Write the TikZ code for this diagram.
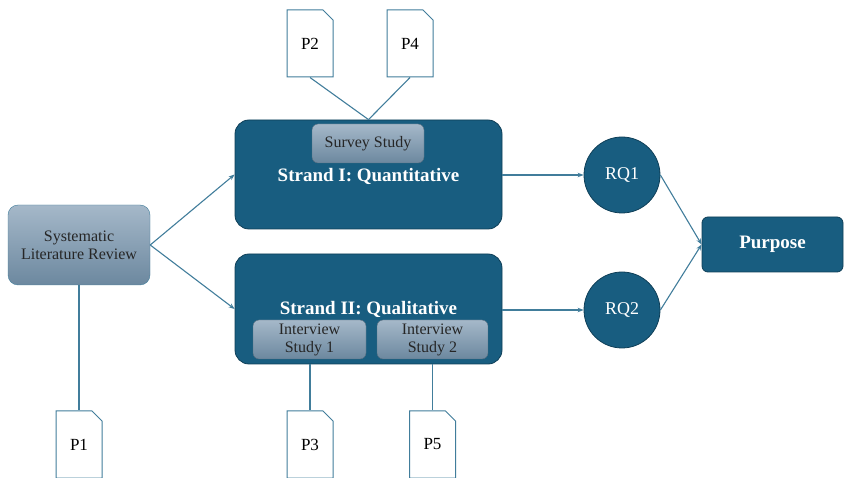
\documentclass[tikz,border=0pt]{standalone}
\usepackage{fontspec}
\setmainfont{Liberation Serif}
\usetikzlibrary{arrows.meta,positioning,shapes.misc}
\definecolor{cA}{HTML}{185D80}
\definecolor{cB}{HTML}{0F3F58}
\definecolor{cC}{HTML}{A5B8C9}
\definecolor{cD}{HTML}{6C889F}
\definecolor{cE}{HTML}{417D9B}
\tikzset{
  strand/.style={rectangle,rounded corners=14pt,draw=cB,thick,fill=cA,
                 text=white,font=\fontsize{19}{22}\selectfont\bfseries},
  study/.style={rectangle,rounded corners=6pt,draw=cD!80!black,thin,
                top color=cC,bottom color=cD,align=center,inner sep=0pt,
                font=\fontsize{16}{18}\selectfont,text=black!85},
  rq/.style={circle,draw=cB,thick,fill=cA,minimum size=76pt,
             text=white,font=\fontsize{18}{20}\selectfont},
  paper/.style={chamfered rectangle,chamfered rectangle corners=north east,
                chamfered rectangle xsep=5pt,chamfered rectangle ysep=5pt,
                draw=cE,fill=white,line width=1pt,minimum width=46pt,
                minimum height=67pt,inner sep=0pt,
                font=\fontsize{17}{19}\selectfont},
  link/.style={draw=cE,line width=1.1pt},
  flow/.style={link,-{Stealth[length=6pt,width=4.5pt]}},
}

\begin{document}
\begin{tikzpicture}[x=1pt,y=-1pt]
  \useasboundingbox (0,0) rectangle (844,478);
  % review box on left
  \node[study,rounded corners=10pt,minimum width=142pt,minimum height=80pt,
        draw=cE] (slr) at (79,245) {Systematic\\Literature Review};
  % the two strands
  \node[strand,minimum width=267pt,minimum height=109pt,text depth=-4pt]
       (s1) at (368.5,174.5) {Strand I: Quantitative};
  \node[strand,minimum width=267pt,minimum height=110pt] (s2) at (368.5,309)
       {Strand II: Qualitative};
  \node[study,minimum width=112pt,minimum height=39pt] (survey) at (368,143.5)
       {Survey Study};
  \node[study,minimum width=113pt,minimum height=39pt] (int1) at (309.5,339.5)
       {Interview\\Study 1};
  \node[study,minimum width=111pt,minimum height=39pt] (int2) at (432.5,339.5)
       {Interview\\Study 2};
  % questions and purpose
  \node[rq] (rq1) at (622,175) {RQ1};
  \node[rq] (rq2) at (622,310) {RQ2};
  \node[strand,rounded corners=6pt,minimum width=141pt,minimum height=55pt,
        font=\fontsize{19}{22}\selectfont\bfseries] (purpose) at (772.5,244.5)
       {Purpose};
  % papers
  \node[paper] (p2) at (310,43.5) {P2};
  \node[paper] (p4) at (410,43.5) {P4};
  \node[paper] (p1) at (79,444.5) {P1};
  \node[paper] (p3) at (310,444.5) {P3};
  \node[paper] (p5) at (432.5,444.5) {P5};
  % connectors
  \draw[flow] (slr.east) -- (s1.west);
  \draw[flow] (slr.east) -- (s2.west);
  \draw[flow] (s1.east |- rq1) -- (rq1);
  \draw[flow] (s2.east |- rq2) -- (rq2);
  \draw[flow] (rq1.east) -- (purpose.west);
  \draw[flow] (rq2.east) -- (purpose.west);
  \draw[link] (p2.south) -- (s1.north);
  \draw[link] (p4.south) -- (s1.north);
  \draw[link] (p1.north |- slr.south) -- (p1.north);
  \draw[link] (p3.north |- s2.south) -- (p3.north);
  \draw[link] (p5.north |- s2.south) -- (p5.north);
\end{tikzpicture}
\end{document}
